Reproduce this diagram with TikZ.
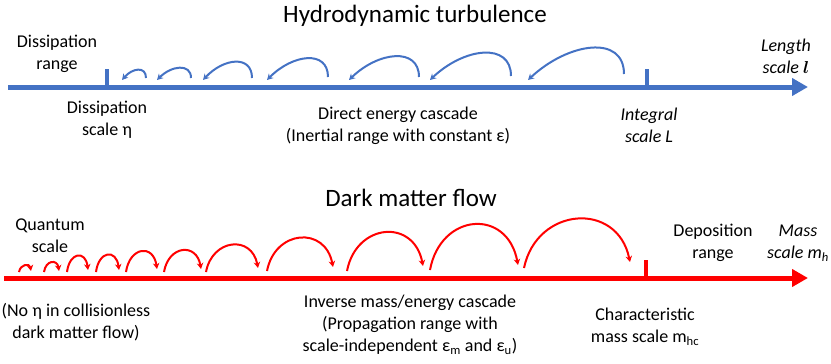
\documentclass[tikz,border=0pt]{standalone}
\usepackage{fontspec}
\setmainfont{Carlito}
\usetikzlibrary{arrows.meta}
\definecolor{flowblue}{HTML}{4472C4}
\definecolor{flowred}{HTML}{FF0000}

\begin{document}
\begin{tikzpicture}[
    x=1pt, y=-1pt,
    axis line/.style={line width=5pt, -{Triangle[length=16pt, width=17pt]}},
    tick line/.style={line width=4pt},
    hop line/.style={line width=2pt, -{Stealth[length=6pt, width=6.5pt]}},
    title node/.style={font=\fontsize{25}{30}\selectfont},
    text node/.style={align=center, inner sep=0pt, font=\fontsize{18}{22}\selectfont}
]
\useasboundingbox (0,0) rectangle (831,364);

% Hydrodynamic turbulence: energy goes from large to small scales
\node[title node] (T1) at (415, 16) {Hydrodynamic turbulence};

\coordinate (B0)  at (8, 87);
\coordinate (B1)  at (808, 87);
\draw[axis line, draw=flowblue, fill=flowblue] (B0) -- (B1);

% scale marks: dissipation scale and integral scale
\coordinate (Eta)  at (107, 69);
\coordinate (EtaB) at (107, 86);
\coordinate (L)    at (647, 69);
\coordinate (LB)   at (647, 86);
\draw[tick line, flowblue] (Eta) -- (EtaB);
\draw[tick line, flowblue] (L) -- (LB);

% direct cascade: hops from right to left
\foreach \xs/\ys/\xe/\h [count=\i] in {146/78/122/9, 191/78/157/11, 252/78/203/17,
    328/77/267/20, 419/77/349/22, 511/76/430/25, 624/74/528/29} {
  \pgfmathsetmacro\a{\h/0.73}
  \pgfmathsetmacro\b{0.95*\a}
  \pgfmathsetmacro\d{0.42*(\xs-\xe)}
  \coordinate (bs\i) at (\xs, \ys);
  \coordinate (be\i) at (\xe, 80);
  \draw[hop line, flowblue] (bs\i) .. controls +(0,-\a) and +(\d,-\b) .. (be\i);
}

\node[text node] (DissRange)  at (57, 54)  {Dissipation\\range};
\node[text node] (DissScale)  at (107, 120) {Dissipation\\scale η};
\node[text node] (Direct)     at (398, 126) {Direct energy cascade\\(Inertial range with constant ε)};
\node[text node, font=\fontsize{18}{22}\selectfont\itshape] (Integral) at (649, 125) {Integral\\scale L};
\node[text node, font=\fontsize{18}{22}\selectfont\itshape] (Length)   at (786, 56)  {Length\\scale {\boldmath$l$}};

% Dark matter flow: mass goes from small to large scales
\node[title node] (T2) at (411, 198) {Dark matter flow};

\coordinate (R0) at (4, 278);
\coordinate (R1) at (808, 278);
\draw[axis line, draw=flowred, fill=flowred] (R0) -- (R1);

% characteristic mass scale
\coordinate (Mhc)  at (646, 260);
\coordinate (MhcB) at (646, 277);
\draw[tick line, flowred] (Mhc) -- (MhcB);

% inverse cascade: hops from left to right
\foreach \xs/\ys/\xe/\ye/\h [count=\i] in {19/272/31/271/6, 44/272/59/271/9, 67/272/88/270/15,
    96/272/119/270/16, 126/272/157/269/19, 164/272/201/269/20, 206/272/258/268/25,
    267/271/333/267/31, 347/271/423/266/36, 430/270/518/265/43, 524/268/630/262/46} {
  \pgfmathsetmacro\a{\h/0.75}
  \pgfmathsetmacro\d{0.12*(\xe-\xs)}
  \coordinate (rs\i) at (\xs, \ys);
  \coordinate (re\i) at (\xe, \ye);
  \draw[hop line, flowred] (rs\i) .. controls +(\d,-\a) and +(-\d,-\a) .. (re\i);
}

\node[text node] (Quantum)    at (50, 236)  {Quantum\\scale};
\node[text node] (NoEta)      at (76, 322)  {(No η in collisionless\\dark matter flow)};
\node[text node] (Inverse)    at (410, 325) {Inverse mass/energy cascade\\(Propagation range with\\scale-independent ε\textsubscript{m} and ε\textsubscript{u})};
\node[text node] (Charact)    at (645, 327) {Characteristic\\mass scale m\textsubscript{hc}};
\node[text node] (Deposition) at (713, 243) {Deposition\\range};
\node[text node, font=\fontsize{18}{22}\selectfont\itshape] (MassScale) at (798, 243) {Mass\\scale m\textsubscript{h}};

\end{tikzpicture}
\end{document}
